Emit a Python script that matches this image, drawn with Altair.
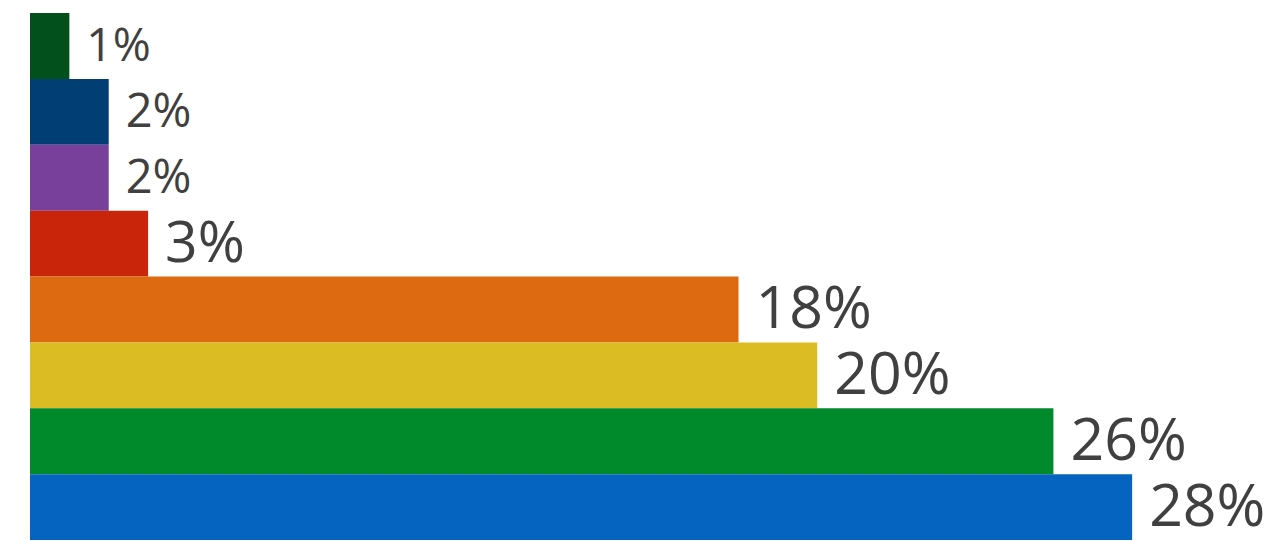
import altair as alt
import pandas as pd

categories = ["c1", "c2", "c3", "c4", "c5", "c6", "c7", "c8"]
values = [1, 2, 2, 3, 18, 20, 26, 28]
labels = ["1%", "2%", "2%", "3%", "18%", "20%", "26%", "28%"]
colors = ["#02501C", "#003E74", "#783F9B", "#C8250A", "#DD6A10", "#DBBD23", "#008A2C", "#0464BF"]

df = pd.DataFrame({"cat": categories, "value": values, "label": labels})

y = alt.Y("cat:N", sort=categories, axis=None,
          scale=alt.Scale(paddingInner=0, paddingOuter=0))
x = alt.X("value:Q", axis=None, scale=alt.Scale(domain=[0, 31.35], nice=False))

bars = alt.Chart(df).mark_bar(cornerRadius=0).encode(
    x=x, y=y,
    color=alt.Color("cat:N", scale=alt.Scale(domain=categories, range=colors), legend=None),
)

text = alt.Chart(df).mark_text(
    align="left", baseline="middle", dx=17, dy=1, font="Open Sans", color="#404040"
).encode(
    x=x, y=y, text="label:N",
    size=alt.Size("value:Q", scale=alt.Scale(domain=[1, 2, 3, 18], range=[46, 47, 57, 59], clamp=True), legend=None),
)

chart = (bars + text).properties(
    width=1234, height=527,
    autosize=alt.AutoSizeParams(type="none"),
    padding={"left": 22, "top": 5, "right": 0, "bottom": 0},
).configure_view(stroke=None)

chart.save("out.html", embed_options={"renderer": "svg", "actions": False})
